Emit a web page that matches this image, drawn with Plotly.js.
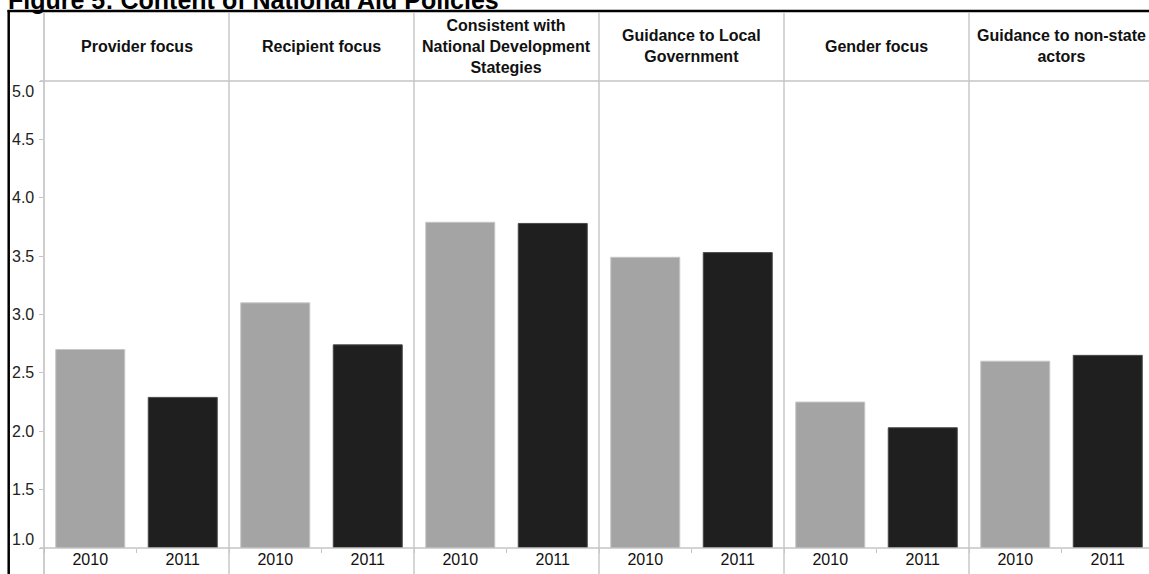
<!DOCTYPE html>
<html>
<head>
<meta charset="utf-8">
<script src="https://cdn.plot.ly/plotly-3.0.1.min.js"></script>
<style>
html,body{margin:0;padding:0;overflow:hidden;background:#fff;}
#chart{width:1160px;height:574px;}
</style>
</head>
<body>
<div id="chart"></div>
<script>
// ---- data ----
const categories = [
  "Provider focus",
  "Recipient focus",
  "Consistent with<br>National Development<br>Stategies",
  "Guidance to Local<br>Government",
  "Gender focus",
  "Guidance to non-state<br>actors"
];
const years = ["2010", "2011"];
const values2010 = [2.70, 3.10, 3.79, 3.49, 2.25, 2.60];
const values2011 = [2.29, 2.74, 3.78, 3.53, 2.03, 2.65];
const yTicks = [1.0, 1.5, 2.0, 2.5, 3.0, 3.5, 4.0, 4.5, 5.0];
const titleText = "Figure 5: Content of National Aid Policies";

// ---- layout geometry (pixels) ----
const W = 1160, H = 574;
const mL = 44, mT = 81, mB = 26, mR = 6;
const plotW = W - mL - mR, plotH = H - mT - mB;
const px2x = p => (p - mL) / plotW;            // paper x from pixel
const py2y = p => (H - mB - p) / plotH;        // paper y from pixel

const FONT = "Liberation Sans, Arial, sans-serif";

// category keys unique per group/year
const key = (i, yr) => categories[i].replace(/<br>/g, " ") + " " + yr;
const x2010 = categories.map((c, i) => key(i, years[0]));
const x2011 = categories.map((c, i) => key(i, years[1]));
const allX = [];
categories.forEach((c, i) => { allX.push(key(i, years[0])); allX.push(key(i, years[1])); });
const allText = [];
categories.forEach(() => { allText.push(years[0]); allText.push(years[1]); });

const traces = [
  {
    type: "bar", name: years[0], x: x2010, y: values2010,
    marker: { color: "#a4a4a4", line: { color: "#c6c6c6", width: 1 } },
    hoverinfo: "y"
  },
  {
    type: "bar", name: years[1], x: x2011, y: values2011,
    marker: { color: "#1f1f1f", line: { color: "#4a4a4a", width: 1 } },
    hoverinfo: "y"
  }
];

const shapes = [];
// panel dividers
for (let g = 1; g < categories.length; g++) {
  shapes.push({
    type: "line", xref: "x", yref: "paper",
    x0: 2 * g - 0.5, x1: 2 * g - 0.5, y0: py2y(H), y1: py2y(13),
    line: { color: "#c8c8c8", width: 1.5 }
  });
}
// y-axis line (extends through header and below)
shapes.push({ type: "line", xref: "paper", yref: "paper", x0: 0, x1: 0, y0: py2y(H), y1: py2y(13),
  line: { color: "#bdbdbd", width: 1.5 } });
// header bottom line
shapes.push({ type: "line", xref: "paper", yref: "paper", x0: px2x(40), x1: px2x(W), y0: 1, y1: 1,
  line: { color: "#c4c4c4", width: 1.5 } });
// baseline
shapes.push({ type: "line", xref: "paper", yref: "paper", x0: px2x(40), x1: px2x(W), y0: 0, y1: 0,
  line: { color: "#c4c4c4", width: 1.5 } });
// black frame top & left
shapes.push({ type: "line", xref: "paper", yref: "paper", x0: px2x(7.5), x1: px2x(W), y0: py2y(11), y1: py2y(11),
  line: { color: "#000", width: 2.5 } });
shapes.push({ type: "line", xref: "paper", yref: "paper", x0: px2x(8.7), x1: px2x(8.7), y0: py2y(10), y1: py2y(H + 2),
  line: { color: "#000", width: 2.5 } });

const annotations = [];
// headers
categories.forEach((c, i) => {
  annotations.push({
    xref: "x", yref: "paper", x: 2 * i + 0.5, y: py2y(46),
    xanchor: "center", yanchor: "middle", showarrow: false,
    text: c, align: "center",
    font: { family: FONT, size: 16, color: "#111", weight: "bold" }
  });
});
// y tick labels
yTicks.forEach((v, i) => {
  let shift = 0;
  if (i === yTicks.length - 1) shift = -10;
  if (i === 0) shift = 9;
  annotations.push({
    xref: "paper", yref: "y", x: 0, y: v, xshift: -8, yshift: shift,
    xanchor: "right", yanchor: "middle", showarrow: false,
    text: v.toFixed(1),
    font: { family: FONT, size: 16, color: "#222" }
  });
});
// title (cut at top, as in the reference)
annotations.push({
  xref: "paper", yref: "paper", x: px2x(7), y: py2y(15),
  xanchor: "left", yanchor: "bottom", showarrow: false, borderpad: 0,
  text: titleText,
  font: { family: FONT, size: 25, color: "#000", weight: "bold" }
});

const layout = {
  width: W, height: H,
  margin: { l: mL, r: mR, t: mT, b: mB, pad: 0 },
  paper_bgcolor: "#fff", plot_bgcolor: "#fff",
  showlegend: false,
  bargap: 0.254,
  barmode: "group",
  xaxis: {
    type: "category", categoryorder: "array", categoryarray: allX,
    range: [-0.5, allX.length - 0.5],
    tickmode: "array", tickvals: allX, ticktext: allText,
    tickson: "boundaries", ticks: "outside", ticklen: 4, tickcolor: "#c4c4c4", tickwidth: 1,
    showline: false, showgrid: false, zeroline: false,
    tickfont: { family: FONT, size: 16, color: "#111" }
  },
  yaxis: {
    range: [1, 5], tickmode: "array", tickvals: yTicks,
    ticks: "outside", ticklen: 4, tickcolor: "#c4c4c4", tickwidth: 1,
    showticklabels: false, showline: false, showgrid: false, zeroline: false
  },
  shapes: shapes,
  annotations: annotations
};

Plotly.newPlot("chart", traces, layout, { displayModeBar: false, staticPlot: true });
</script>
</body>
</html>
